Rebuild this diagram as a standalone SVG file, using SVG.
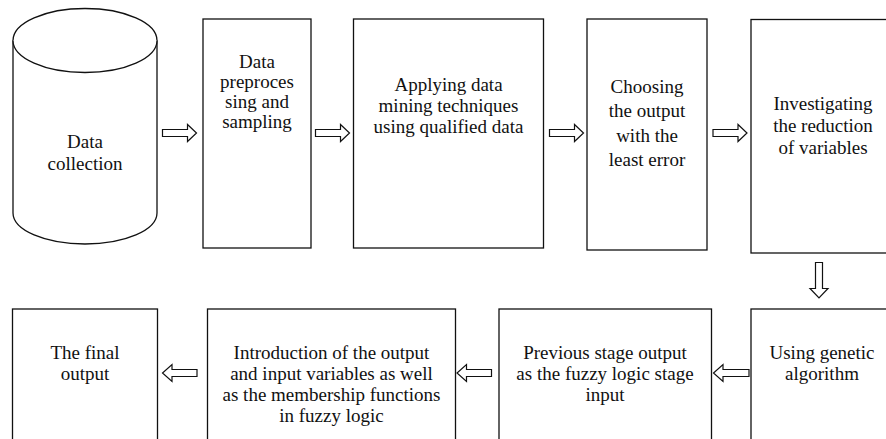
<svg xmlns="http://www.w3.org/2000/svg" width="886" height="439" viewBox="0 0 886 439" font-family="Liberation Serif, Times New Roman, DejaVu Serif, serif">
<style>
.box{fill:#fff;stroke:#111;stroke-width:1.3}
.arr{fill:#fff;stroke:#111;stroke-width:1.2;stroke-linejoin:miter}
.t{font-family:"Liberation Serif","Times New Roman",Times,serif;font-size:19px;fill:#111;text-anchor:middle}
</style>
<rect width="886" height="439" fill="#fff"/>
<g id="n1">
<path class="box" d="M13,40.5 L13,213 A72,31 0 0 0 157,213 L157,40.5 A72,32 0 0 0 13,40.5 Z"/>
<path class="box" fill="none" d="M13,40.5 A72,32 0 0 0 157,40.5"/>
<text class="t" x="85" y="148">Data</text>
<text class="t" x="85" y="170">collection</text>
</g>
<g id="n2">
<rect class="box" x="203" y="19" width="108" height="229"/>
<text class="t" x="257" y="68">Data</text>
<text class="t" x="257" y="88">preproces</text>
<text class="t" x="257" y="108">sing and</text>
<text class="t" x="257" y="128">sampling</text>
</g>
<g id="n3">
<rect class="box" x="353.5" y="19" width="190" height="229"/>
<text class="t" x="448.5" y="90.5">Applying data</text>
<text class="t" x="448.5" y="111.5">mining techniques</text>
<text class="t" x="448.5" y="132.5">using qualified data</text>
</g>
<g id="n4">
<rect class="box" x="587" y="19" width="120" height="231"/>
<text class="t" x="647" y="92.5">Choosing</text>
<text class="t" x="647" y="117">the output</text>
<text class="t" x="647" y="141.5">with the</text>
<text class="t" x="647" y="166">least error</text>
</g>
<g id="n5">
<rect class="box" x="751" y="19.5" width="145" height="233.5"/>
<text class="t" x="823" y="110">Investigating</text>
<text class="t" x="823" y="132">the reduction</text>
<text class="t" x="823" y="154">of variables</text>
</g>
<g id="n6">
<rect class="box" x="751" y="309" width="145" height="140"/>
<text class="t" x="822" y="359">Using genetic</text>
<text class="t" x="822" y="380">algorithm</text>
</g>
<g id="n7">
<rect class="box" x="499" y="309" width="212.5" height="140"/>
<text class="t" x="605" y="359">Previous stage output</text>
<text class="t" x="605" y="380">as the fuzzy logic stage</text>
<text class="t" x="605" y="401">input</text>
</g>
<g id="n8">
<rect class="box" x="207.5" y="309" width="248" height="140"/>
<text class="t" x="331.5" y="359">Introduction of the output</text>
<text class="t" x="331.5" y="380">and input variables as well</text>
<text class="t" x="331.5" y="401">as the membership functions</text>
<text class="t" x="331.5" y="422">in fuzzy logic</text>
</g>
<g id="n9">
<rect class="box" x="12.5" y="309" width="145" height="140"/>
<text class="t" x="85" y="359">The final</text>
<text class="t" x="85" y="380">output</text>
</g>
<g id="connectors">
<path class="arr" d="M162.5,129.5 H187.5 V124.5 L196.5,133 L187.5,141.5 V136.5 H162.5 Z"/>
<path class="arr" d="M315.5,129.5 H340.5 V124.5 L349.5,133 L340.5,141.5 V136.5 H315.5 Z"/>
<path class="arr" d="M549.5,129.5 H574.5 V124.5 L583.5,133 L574.5,141.5 V136.5 H549.5 Z"/>
<path class="arr" d="M713,129.5 H738 V124.5 L747,133 L738,141.5 V136.5 H713 Z"/>
<path class="arr" d="M815.5,262.5 V288.5 H810 L819,298 L828,288.5 H822.5 V262.5 Z"/>
<path class="arr" d="M749,369.5 H723 V364.5 L713.5,373 L723,381.5 V376.5 H749 Z"/>
<path class="arr" d="M491.5,369.5 H466.5 V364.5 L457,373 L466.5,381.5 V376.5 H491.5 Z"/>
<path class="arr" d="M197,369.5 H172 V364.5 L162.5,373 L172,381.5 V376.5 H197 Z"/>
</g>
</svg>
